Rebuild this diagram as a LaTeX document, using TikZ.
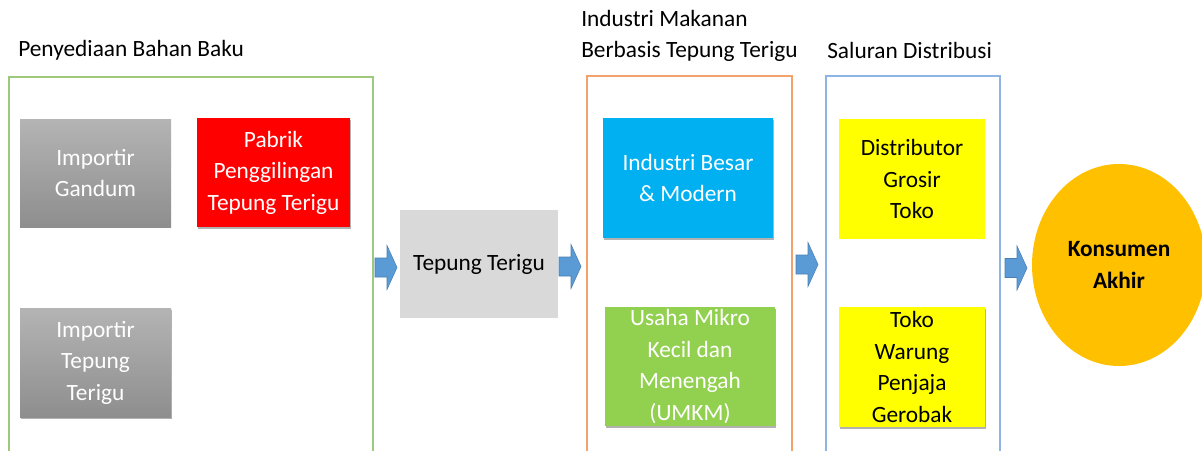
\documentclass[tikz,border=0pt]{standalone}
\usepackage{fontspec}
\setmainfont{Carlito}
\usetikzlibrary{shapes.geometric,shadows}
\definecolor{grpGreen}{HTML}{9CC97C}
\definecolor{grpOrange}{HTML}{F3A26C}
\definecolor{grpBlue}{HTML}{8DB4E2}
\definecolor{flowBlue}{HTML}{5B9BD5}
\definecolor{flowEdge}{HTML}{4A7FB5}
\definecolor{boxGrayTop}{HTML}{B4B4B4}
\definecolor{boxGrayBot}{HTML}{8E8E8E}
\definecolor{flourGray}{HTML}{D9D9D9}
\definecolor{bigInd}{HTML}{00B0F0}
\definecolor{umkmGreen}{HTML}{92D050}
\definecolor{shopYellow}{HTML}{FFFF00}
\definecolor{consumer}{HTML}{FFC000}
\tikzset{
  txt/.style={font=\fontsize{17.5}{23.6}\selectfont, align=center, inner sep=0pt},
  card/.style={txt, rectangle, draw=none},
  shade/.style={drop shadow={shadow xshift=1pt, shadow yshift=-1.5pt, opacity=0.3, fill=black}},
  graycard/.style={card, top color=boxGrayTop, bottom color=boxGrayBot, text=white},
  group/.style={line width=0.9pt},
  title/.style={font=\fontsize{17.5}{23.6}\selectfont, anchor=west, inner sep=0pt, align=left},
  flow/.style={draw=flowEdge, fill=flowBlue, line width=0.4pt, line join=miter},
  flowarrow/.pic={
    \path[flow] (-11,-9.5) -- (1,-9.5) -- (1,-22) -- (11,0) -- (1,22)
      -- (1,9.5) -- (-11,9.5) -- cycle;
  },
}
\begin{document}
\begin{tikzpicture}[x=0.75pt, y=-0.75pt]
  \clip (0,0) rectangle (1202,450);
  \fill[white] (0,0) rectangle (1202,450);

  % group frames, open at the bottom
  \draw[group, grpGreen]  (9,460) -- (9,77) -- (373,77) -- (373,460);
  \draw[group, grpOrange] (587,460) -- (587,76) -- (792,76) -- (792,460);
  \draw[group, grpBlue]   (826,460) -- (826,76) -- (1000,76) -- (1000,460);

  % group titles
  \node[title] (tRaw) at (18,50) {Penyediaan Bahan Baku};
  \node[title] (tInd) at (581,36) {Industri Makanan\\Berbasis Tepung Terigu};
  \node[title] (tDist) at (827,50) {Saluran Distribusi};

  % raw material supply
  \node[graycard, minimum width=113.25pt, minimum height=81pt] (impG) at (95.5,173) {Importir\\Gandum};
  \node[card, shade, fill=red, text=white, minimum width=114.75pt, minimum height=81.75pt] (mill) at (273.5,172.5) {Pabrik\\Penggilingan\\Tepung Terigu};
  \node[graycard, shade, minimum width=113.25pt, minimum height=81.75pt] (impT) at (95.5,362.5) {Importir\\Tepung\\Terigu};

  % flour
  \node[card, fill=flourGray, text=black, minimum width=118.5pt, minimum height=81pt] (flour) at (479,264) {Tepung Terigu};

  % food industry
  \node[card, shade, fill=bigInd, text=white, minimum width=127.5pt, minimum height=90pt] (big) at (688,178) {Industri Besar\\\& Modern};
  \node[card, shade, fill=umkmGreen, text=white, minimum width=127.5pt, minimum height=89.25pt] (umkm) at (690,366.5) {Usaha Mikro\\Kecil dan\\Menengah\\(UMKM)};

  % distribution channels
  \node[card, fill=shopYellow, text=black, minimum width=109.5pt, minimum height=90pt] (dist) at (912,179) {Distributor\\Grosir\\Toko};
  \node[card, shade, fill=shopYellow, text=black, minimum width=109.5pt, minimum height=90pt] (shop) at (912,367) {Toko\\Warung\\Penjaja\\Gerobak};

  % end consumer
  \node[ellipse, fill=consumer, txt, font=\fontsize{17.5}{23.6}\selectfont\bfseries, minimum width=130.5pt, minimum height=151.5pt] (cons) at (1119,265) {Konsumen\\Akhir};

  % flow arrows between the stages
  \pic (a1) at (386,267.5) {flowarrow};
  \pic (a2) at (570,266.5) {flowarrow};
  \pic (a3) at (807,264.5) {flowarrow};
  \pic (a4) at (1016,268) {flowarrow};
\end{tikzpicture}
\end{document}
